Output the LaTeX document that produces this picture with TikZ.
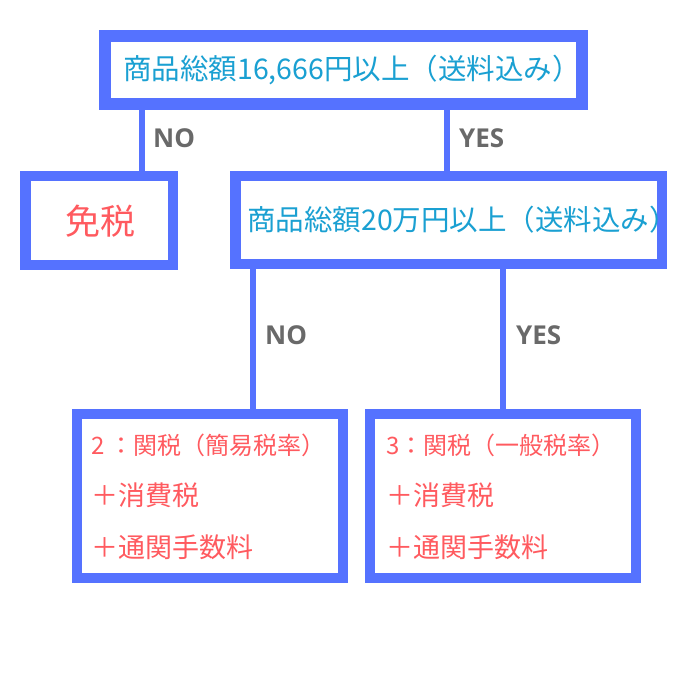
\documentclass[tikz,border=0pt]{standalone}
\usepackage{fontspec}
\setmainfont{Open Sans}
\newfontfamily\jpfont{Noto Sans CJK JP}
\definecolor{boxblue}{RGB}{85,114,255}
\definecolor{qcyan}{RGB}{26,160,210}
\definecolor{ansred}{RGB}{255,90,95}
\definecolor{lblgray}{RGB}{105,105,105}
\begin{document}
\begin{tikzpicture}[x=1pt,y=-1pt,
  box/.style={draw=boxblue,fill=white,inner sep=0pt,outer sep=0pt},
  qtext/.style={font=\jpfont\fontsize{28.5}{32}\selectfont,text=qcyan,inner sep=0pt},
  atext/.style={font=\jpfont\fontsize{27}{31}\selectfont,text=ansred,inner sep=0pt,anchor=west},
  ahead/.style={atext,font=\jpfont\fontsize{24}{28}\selectfont},
  lbl/.style={font=\bfseries\fontsize{26}{30}\selectfont,text=lblgray,inner sep=0pt,anchor=west},
  conn/.style={draw=boxblue,line width=6pt}]
\useasboundingbox (0,0) rectangle (700,700);
\fill[white] (0,0) rectangle (700,700);
% boxes
\node[box,line width=12pt,minimum width=477pt,minimum height=68pt] (q1) at (343.5,70) {};
\node[box,line width=10.5pt,minimum width=147.5pt,minimum height=88.5pt] (mz) at (99,220.5) {};
\node[box,line width=10.5pt,minimum width=426.5pt,minimum height=87.5pt] (q2) at (448.5,220) {};
\node[box,line width=10pt,minimum width=266.5pt,minimum height=164pt] (a2) at (209.75,496) {};
\node[box,line width=10pt,minimum width=266.5pt,minimum height=164pt] (a3) at (502.8,496) {};
% connector x positions
\coordinate (xa) at (142,0);
\coordinate (xb) at (447,0);
\coordinate (xc) at (252.5,0);
\coordinate (xd) at (502.5,0);
\draw[conn] (q1.south -| xa) -- (mz.north -| xa);
\draw[conn] (q1.south -| xb) -- (q2.north -| xb);
\draw[conn] (q2.south -| xc) -- (a2.north -| xc);
\draw[conn] (q2.south -| xd) -- (a3.north -| xd);
% texts
\node[qtext,anchor=west] (t1) at (123,70) {商品総額16,666円以上（送料込み）};
\node[qtext,anchor=west] (t2) at (247,220) {商品総額20万円以上（送料込み）};
\node[font=\jpfont\fontsize{35}{40}\selectfont,text=ansred,inner sep=0pt] (tmz) at (100,221) {免税};
\node[ahead] (a2l1) at (91,445) {2 ：関税（簡易税率）};
\node[atext] (a2l2) at (91,495) {＋消費税};
\node[atext] (a2l3) at (91,547) {＋通関手数料};
\node[ahead] (a3l1) at (386,445) {3：関税（一般税率）};
\node[atext] (a3l2) at (386,495) {＋消費税};
\node[atext] (a3l3) at (386,547) {＋通関手数料};
% labels
\node[lbl] (no1) at (153,138) {NO};
\node[lbl] (yes1) at (459,138) {YES};
\node[lbl] (no2) at (265,335) {NO};
\node[lbl] (yes2) at (516,335) {YES};
\end{tikzpicture}
\end{document}
